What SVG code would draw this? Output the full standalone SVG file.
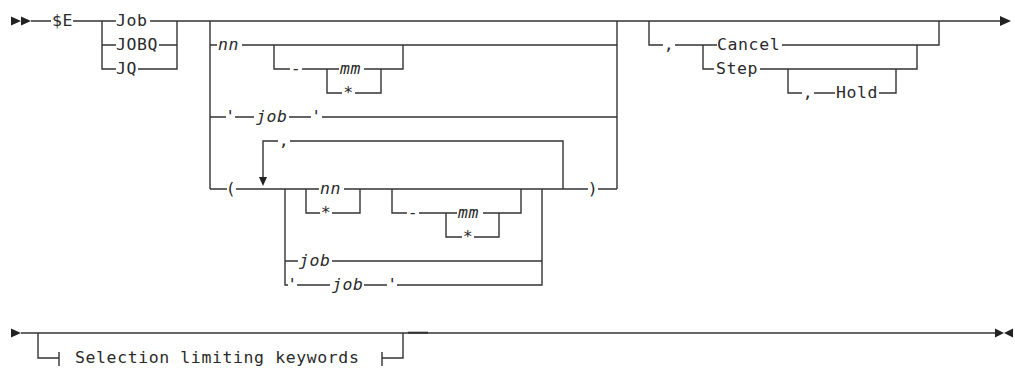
<svg xmlns="http://www.w3.org/2000/svg" width="1015" height="371" viewBox="0 0 1015 371">
<style>
.c{fill:none;stroke:#333;stroke-width:1.4}
.a{fill:#222}
.t{font-family:"DejaVu Sans Mono","Liberation Mono",monospace;font-size:16.5px;letter-spacing:0.6px;fill:#2a2a2a}
.i{font-style:italic}
.m{text-anchor:middle}
</style>
<rect width="1015" height="371" fill="#fff"/>
<g id="connectors">
<!-- row 1 main line -->
<path class="c" d="M31,21H51M73,21H116M150,21H1001"/>
<!-- Job group -->
<path class="c" d="M102,21V69H116M102,45H116M159,45H177M138,69H177V21"/>
<!-- big group -->
<path class="c" d="M210,21V189M617,21V189"/>
<path class="c" d="M210,45H217M242,45H617"/>
<path class="c" d="M274,45V69H290M302,69H339M364,69H403V45"/>
<path class="c" d="M327,69V93H342M355,93H381V69"/>
<path class="c" d="M210,117H226M235,117H254M289,117H311M322,117H617"/>
<!-- loop -->
<path class="c" d="M263,177V141H278M290,141H563V189"/>
<path class="c" d="M210,189H227M236,189H319M344,189H588M598,189H617"/>
<path class="c" d="M306,189V213H320M332,213H360V189"/>
<path class="c" d="M392,189V213H407M419,213H457M483,213H521V189"/>
<path class="c" d="M446,213V237H462M474,237H499V213"/>
<path class="c" d="M285,189V285H288M297,285H330M364,285H387M397,285H542V189"/>
<path class="c" d="M285,261H298M332,261H542"/>
<!-- cancel group -->
<path class="c" d="M649,21V45H663M675,45H717M782,45H939V21"/>
<path class="c" d="M703,45V69H714M760,69H917V45"/>
<path class="c" d="M788,69V93H802M814,93H835M879,93H896V69"/>
<!-- bottom row -->
<path class="c" d="M21,333H995"/>
<path class="c" d="M408,332.7H428" style="stroke-width:2"/>
<path class="c" d="M38,333V358H59M59,352V366"/>
<path class="c" d="M382,352V366M382,358H403V333"/>
<!-- arrowheads -->
<polygon class="a" points="11,16.5 21,21 11,25.5"/>
<polygon class="a" points="21,16.5 31,21 21,25.5"/>
<polygon class="a" points="1000,16 1011,21 1000,26"/>
<polygon class="a" points="259,177 267,177 263,186"/>
<polygon class="a" points="11,328.5 21,333 11,337.5"/>
<polygon class="a" points="995,328.5 1004,333 995,337.5"/>
<polygon class="a" points="1013,328.5 1004,333 1013,337.5"/>
</g>
<g id="n-se"><text class="t" x="52" y="26">$E</text></g>
<g id="n-job"><text class="t" x="116" y="26">Job</text></g>
<g id="n-jobq"><text class="t" x="116" y="50">JOBQ</text></g>
<g id="n-jq"><text class="t" x="116" y="74">JQ</text></g>
<g id="n-nn1"><text class="t i" x="218" y="50">nn</text></g>
<g id="n-dash1"><text class="t m" x="296" y="74">-</text></g>
<g id="n-mm1"><text class="t i" x="340" y="74">mm</text></g>
<g id="n-star1"><text class="t m" x="348.5" y="98">*</text></g>
<g id="n-qjob1"><text class="t m" x="230.5" y="122">'</text><text class="t i" x="256" y="122">job</text><text class="t m" x="316.5" y="122">'</text></g>
<g id="n-loopcomma"><text class="t m" x="284" y="146">,</text></g>
<g id="n-lparen"><text class="t m" x="231" y="194">(</text></g>
<g id="n-nn2"><text class="t i" x="320" y="194">nn</text></g>
<g id="n-star2"><text class="t m" x="326" y="218">*</text></g>
<g id="n-dash2"><text class="t m" x="413" y="218">-</text></g>
<g id="n-mm2"><text class="t i" x="458" y="218">mm</text></g>
<g id="n-star3"><text class="t m" x="468" y="242">*</text></g>
<g id="n-job2"><text class="t i" x="299" y="266">job</text></g>
<g id="n-qjob2"><text class="t m" x="292.5" y="290">'</text><text class="t i" x="332" y="290">job</text><text class="t m" x="392.5" y="290">'</text></g>
<g id="n-rparen"><text class="t m" x="593" y="194">)</text></g>
<g id="n-comma2"><text class="t m" x="669" y="50">,</text></g>
<g id="n-cancel"><text class="t" x="717" y="50">Cancel</text></g>
<g id="n-step"><text class="t" x="716" y="74">Step</text></g>
<g id="n-comma3"><text class="t m" x="808" y="98">,</text></g>
<g id="n-hold"><text class="t" x="836" y="98">Hold</text></g>
<g id="n-sel"><text class="t" x="75" y="363">Selection limiting keywords</text></g>
</svg>
